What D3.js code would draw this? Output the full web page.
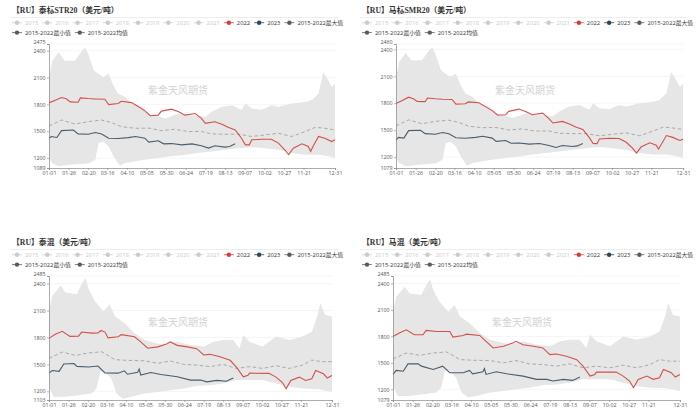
<!DOCTYPE html>
<html>
<head>
<meta charset="utf-8">
<script src="https://cdn.jsdelivr.net/npm/d3@7"></script>
<style>
  body { margin: 0; background: #fff; }
  text { font-family: "Open Sans", "Noto Sans CJK SC", sans-serif; }
</style>
</head>
<body>
<svg id="chart" width="700" height="420"></svg>
<script>
// ---- data ----
const titles = ["【RU】泰标STR20（美元/吨）", "【RU】马标SMR20（美元/吨）", "【RU】泰混（美元/吨）", "【RU】马混（美元/吨）"];
const yMins = [1089, 1079, 1103, 1079];
const yMaxs = [2475, 2460, 2485, 2485];
const yTicks = [1200, 1500, 1800, 2100, 2400];
const tickLabels = ["01-01", "01-26", "02-20", "03-16", "04-10", "05-05", "05-30", "06-24", "07-19", "08-13", "09-07", "10-02", "10-27", "11-21", "12-31"];
const legendNames = ["2015", "2016", "2017", "2018", "2019", "2020", "2021", "2022", "2023", "2015-2022最大值", "2015-2022最小值", "2015-2022均值"];
const watermark = "紫金天风期货";

// [day of year, value]
const p1_2022 = [[0,1817],[8,1846],[16,1876],[22,1862],[27,1828],[37,1824],[40,1872],[50,1865],[59,1861],[71,1857],[76,1798],[88,1810],[92,1835],[105,1820],[114,1773],[122,1728],[129,1673],[139,1680],[143,1725],[156,1747],[165,1717],[173,1680],[186,1698],[194,1643],[199,1588],[211,1606],[220,1577],[228,1544],[237,1514],[245,1422],[250,1348],[255,1348],[258,1404],[271,1411],[283,1411],[292,1367],[300,1293],[305,1238],[311,1311],[322,1359],[330,1330],[333,1275],[336,1330],[343,1441],[351,1422],[360,1385],[364,1404]];
const p1_2023 = [[0,1422],[3,1441],[10,1430],[16,1507],[31,1514],[37,1470],[50,1466],[59,1485],[67,1470],[76,1422],[88,1418],[101,1429],[110,1441],[122,1422],[127,1378],[139,1393],[146,1359],[156,1362],[169,1348],[182,1359],[194,1337],[203,1311],[211,1337],[224,1322],[230,1330],[237,1359]];
const p1Mean = [[0,1559],[16,1625],[33,1581],[50,1607],[67,1625],[80,1596],[92,1551],[110,1533],[127,1535],[143,1507],[160,1522],[177,1496],[194,1498],[207,1470],[224,1466],[241,1468],[258,1441],[275,1459],[292,1477],[309,1441],[326,1496],[339,1544],[351,1533],[364,1514]];
const p1Max = [[0,2100],[4,2280],[12,2382],[20,2289],[33,2289],[42,2400],[46,2437],[50,2363],[57,2178],[63,2141],[69,2105],[76,2141],[82,2012],[88,1920],[97,1883],[105,1810],[118,1773],[131,1662],[135,1680],[148,1643],[165,1698],[182,1680],[199,1662],[207,1717],[220,1773],[233,1791],[245,1736],[250,1810],[258,1754],[271,1740],[283,1791],[292,1773],[309,1810],[326,1828],[334,1846],[343,1920],[349,2160],[353,2105],[360,1994],[364,2031]];
const p1Min = [[0,1200],[4,1145],[12,1108],[29,1127],[50,1138],[59,1182],[63,1367],[69,1385],[76,1330],[82,1219],[90,1116],[97,1145],[110,1164],[122,1182],[139,1201],[156,1219],[173,1238],[190,1256],[207,1274],[224,1293],[241,1311],[258,1322],[275,1311],[292,1293],[309,1256],[326,1238],[343,1238],[356,1219],[364,1201]];

const p2_2022 = [[0,1798],[8,1830],[16,1868],[22,1850],[27,1820],[37,1818],[40,1858],[50,1850],[59,1845],[71,1842],[76,1790],[88,1795],[92,1815],[105,1805],[114,1760],[122,1718],[129,1668],[139,1672],[143,1710],[156,1735],[165,1705],[173,1672],[186,1690],[194,1630],[199,1580],[211,1598],[220,1568],[228,1535],[237,1508],[245,1420],[250,1352],[255,1350],[258,1402],[271,1410],[283,1408],[292,1365],[300,1300],[305,1245],[311,1315],[322,1360],[330,1332],[333,1290],[336,1335],[343,1440],[351,1420],[360,1385],[364,1400]];
const p2_2023 = [[0,1390],[3,1420],[10,1412],[16,1495],[31,1500],[37,1462],[50,1455],[59,1475],[67,1460],[76,1415],[88,1410],[101,1420],[110,1432],[122,1412],[127,1375],[139,1385],[146,1355],[156,1358],[169,1345],[182,1352],[194,1330],[203,1308],[211,1330],[224,1318],[230,1325],[237,1352]];
const p2Mean = [[0,1548],[16,1615],[33,1572],[50,1598],[67,1612],[80,1585],[92,1545],[110,1528],[127,1530],[143,1502],[160,1515],[177,1490],[194,1492],[207,1466],[224,1462],[241,1462],[258,1438],[275,1455],[292,1470],[309,1438],[326,1490],[339,1535],[351,1525],[364,1508]];
const p2Max = [[0,2090],[4,2260],[12,2360],[20,2275],[33,2280],[42,2390],[46,2425],[50,2350],[57,2170],[63,2130],[69,2095],[76,2130],[82,2000],[88,1910],[97,1872],[105,1800],[118,1765],[131,1655],[135,1672],[148,1636],[165,1690],[182,1672],[199,1655],[207,1708],[220,1765],[233,1780],[245,1728],[250,1800],[258,1745],[271,1732],[283,1782],[292,1765],[309,1800],[326,1818],[334,1835],[343,1910],[349,2145],[353,2095],[360,1985],[364,2020]];
const p2Min = [[0,1190],[4,1135],[12,1098],[29,1115],[50,1128],[59,1172],[63,1355],[69,1372],[76,1320],[82,1210],[90,1105],[97,1135],[110,1155],[122,1172],[139,1190],[156,1208],[173,1228],[190,1245],[207,1262],[224,1282],[241,1300],[258,1312],[275,1300],[292,1282],[309,1245],[326,1228],[343,1228],[356,1210],[364,1190]];

const p3_2022 = [[0,1790],[8,1835],[17,1868],[27,1812],[38,1815],[42,1860],[55,1848],[63,1850],[67,1878],[72,1860],[76,1795],[89,1808],[93,1832],[110,1808],[118,1750],[127,1680],[140,1695],[152,1730],[156,1750],[165,1712],[178,1695],[190,1675],[199,1605],[207,1612],[220,1585],[233,1545],[241,1470],[250,1362],[256,1378],[258,1402],[283,1400],[292,1358],[300,1300],[305,1230],[311,1320],[322,1358],[330,1320],[338,1340],[343,1432],[353,1395],[358,1348],[364,1375]];
const p3_2023 = [[0,1402],[4,1432],[13,1422],[19,1505],[32,1510],[36,1478],[51,1470],[63,1482],[72,1405],[89,1402],[97,1428],[101,1390],[114,1412],[116,1448],[118,1382],[131,1410],[144,1388],[165,1362],[182,1325],[195,1325],[203,1305],[216,1322],[228,1312],[237,1348]];
const p3Mean = [[0,1567],[17,1637],[34,1600],[51,1628],[68,1640],[85,1552],[101,1545],[123,1540],[140,1512],[156,1538],[173,1500],[190,1492],[207,1475],[224,1500],[241,1455],[258,1475],[275,1455],[292,1485],[309,1455],[326,1492],[338,1548],[351,1530],[364,1530]];
const p3Max = [[0,2100],[4,2260],[15,2378],[21,2300],[36,2282],[42,2395],[47,2462],[51,2338],[59,2205],[70,2092],[78,2168],[85,2035],[97,1960],[110,1848],[123,1772],[131,1752],[148,1715],[165,1752],[182,1715],[199,1698],[212,1752],[224,1772],[237,1772],[245,1678],[250,1828],[258,1752],[275,1698],[292,1810],[309,1772],[326,1810],[338,1865],[345,2035],[349,2185],[355,2052],[364,2035]];
const p3Min = [[0,1250],[6,1138],[21,1138],[38,1155],[55,1175],[61,1230],[66,1418],[72,1422],[80,1342],[87,1175],[95,1118],[106,1138],[123,1175],[140,1192],[156,1212],[173,1230],[190,1260],[207,1268],[224,1286],[241,1325],[258,1325],[275,1325],[292,1286],[309,1250],[326,1230],[347,1222],[364,1192]];

const p4_2022 = [[0,1800],[8,1838],[17,1875],[27,1819],[38,1819],[42,1868],[55,1856],[72,1856],[76,1793],[89,1811],[93,1826],[110,1811],[118,1744],[127,1669],[140,1688],[152,1725],[156,1744],[165,1706],[178,1688],[190,1669],[199,1594],[207,1601],[220,1575],[233,1537],[241,1463],[250,1350],[256,1369],[258,1395],[283,1395],[292,1350],[300,1294],[305,1219],[311,1313],[322,1350],[330,1313],[338,1331],[343,1425],[353,1388],[358,1339],[364,1369]];
const p4_2023 = [[0,1369],[4,1414],[13,1405],[19,1489],[32,1489],[36,1463],[51,1425],[63,1463],[72,1388],[89,1388],[97,1414],[101,1376],[114,1399],[116,1436],[118,1369],[131,1399],[144,1376],[165,1350],[182,1313],[195,1313],[203,1294],[216,1313],[228,1301],[237,1339]];
const p4Mean = [[0,1545],[17,1612],[34,1586],[51,1612],[68,1624],[85,1537],[101,1530],[123,1526],[140,1500],[156,1526],[173,1489],[190,1481],[207,1463],[224,1489],[241,1444],[258,1463],[275,1444],[292,1474],[309,1444],[326,1481],[338,1537],[351,1519],[364,1519]];
const p4Max = [[0,2080],[4,2250],[15,2362],[21,2287],[36,2269],[42,2381],[47,2449],[51,2325],[59,2194],[70,2081],[78,2156],[85,2025],[97,1950],[110,1838],[123,1763],[131,1744],[148,1706],[165,1744],[182,1706],[199,1688],[212,1744],[224,1763],[237,1763],[245,1669],[250,1819],[258,1744],[275,1688],[292,1800],[309,1763],[326,1800],[338,1856],[345,2025],[349,2175],[355,2044],[364,2025]];
const p4Min = [[0,1238],[6,1125],[21,1125],[38,1144],[55,1163],[61,1219],[66,1406],[72,1412],[80,1331],[87,1163],[95,1106],[106,1125],[123,1163],[140,1181],[156,1200],[173,1219],[190,1249],[207,1256],[224,1275],[241,1313],[258,1313],[275,1313],[292,1275],[309,1238],[326,1219],[347,1212],[364,1181]];

const series2022 = [p1_2022, p2_2022, p3_2022, p4_2022];
const series2023 = [p1_2023, p2_2023, p3_2023, p4_2023];
const seriesMean = [p1Mean, p2Mean, p3Mean, p4Mean];
const seriesMax = [p1Max, p2Max, p3Max, p4Max];
const seriesMin = [p1Min, p2Min, p3Min, p4Min];

// ---- layout ----
const panels = [
  { ox: 0, oy: 0, left: 49, right: 335 },
  { ox: 350, oy: 0, left: 396, right: 683 },
  { ox: 0, oy: 232, left: 49, right: 332 },
  { ox: 350, oy: 232, left: 393, right: 680 },
];
const plotTop = 44, plotBottom = 168;
const red = "#d23f3a", navy = "#2f4554", band = "#e6e6e6";

const svg = d3.select("#chart");
const jan1 = new Date(2023, 0, 1);
const parseDay = d3.timeParse("%Y-%m-%d");
const dayOf = (s) => d3.timeDay.count(jan1, parseDay("2023-" + s));

panels.forEach((p, i) => {
  const g = svg.append("g");
  const top = p.oy + plotTop, bottom = p.oy + plotBottom;

  // title + separator
  g.append("text")
    .attr("x", p.ox + 12)
    .attr("y", p.oy + 13)
    .style("font-family", '"Liberation Serif", "Noto Sans CJK SC", serif')
    .style("font-weight", "bold")
    .style("font-size", "7.8px")
    .attr("fill", "#333")
    .text(titles[i]);
  g.append("line")
    .attr("x1", p.ox + 10).attr("x2", p.ox + 338)
    .attr("y1", p.oy + 17.5).attr("y2", p.oy + 17.5)
    .attr("stroke", "#e3e3e3").attr("stroke-width", 0.6);

  // legend
  let lx = p.ox + 12;
  legendNames.forEach((name, k) => {
    if (k === 10) lx = p.ox + 12;
    const ly = p.oy + (k < 10 ? 22.7 : 32.6);
    let c = "#ccc", tc = "#ccc";
    if (k === 7) { c = red; tc = "#333"; }
    else if (k === 8) { c = navy; tc = "#333"; }
    else if (k > 8) { c = "#5a5a5a"; tc = "#333"; }
    const it = g.append("g");
    it.append("line").attr("x1", lx).attr("x2", lx + 10).attr("y1", ly).attr("y2", ly)
      .attr("stroke", c).attr("stroke-width", 0.8);
    it.append("circle").attr("cx", lx + 5).attr("cy", ly).attr("r", 2.2).attr("fill", c);
    const t = it.append("text").attr("x", lx + 13).attr("y", ly + 2)
      .style("font-size", "5.8px").attr("fill", tc).text(name);
    lx += 13 + t.node().getComputedTextLength() + 4;
  });

  const x = d3.scaleLinear().domain([0, 364]).range([p.left, p.right]);
  const y = d3.scaleLinear().domain([yMins[i], yMaxs[i]]).range([bottom, top]);

  // grid
  g.append("g").selectAll("line").data(yTicks.concat([yMaxs[i]])).join("line")
    .attr("x1", p.left).attr("x2", p.right)
    .attr("y1", (d) => y(d)).attr("y2", (d) => y(d))
    .attr("stroke", "#eeeeee").attr("stroke-width", 0.6);

  // band between min and max
  const line = d3.line().x((d) => x(d[0])).y((d) => y(d[1]));
  const ring = seriesMax[i].concat(seriesMin[i].slice().reverse());
  g.append("path").attr("d", line(ring) + "Z").attr("fill", band);

  g.append("text")
    .attr("x", p.left + 99).attr("y", top + 50)
    .style("font-size", "10px").attr("fill", "#d3d3d3")
    .text(watermark);

  g.append("path").attr("d", line(seriesMean[i])).attr("fill", "none")
    .attr("stroke", "#a9a9a9").attr("stroke-width", 1).attr("stroke-dasharray", "3.5,2.5");
  g.append("path").attr("d", line(series2022[i])).attr("fill", "none")
    .attr("stroke", red).attr("stroke-width", 1.1).attr("opacity", 0.9);
  g.append("path").attr("d", line(series2023[i])).attr("fill", "none")
    .attr("stroke", navy).attr("stroke-width", 1.1).attr("opacity", 0.85);

  // axes
  const yAxis = g.append("g").attr("transform", `translate(${p.left},0)`)
    .call(d3.axisLeft(y).tickValues([yMins[i]].concat(yTicks, [yMaxs[i]])).tickSize(2).tickPadding(1.5).tickFormat(d3.format("d")));
  const xAxis = g.append("g").attr("transform", `translate(0,${bottom})`)
    .call(d3.axisBottom(x).tickValues(tickLabels.map(dayOf)).tickSize(2).tickPadding(1.5)
      .tickFormat((d, k) => tickLabels[k]));
  [yAxis, xAxis].forEach((a) => {
    a.select(".domain").attr("stroke", "#888").attr("stroke-width", 0.7);
    a.selectAll(".tick line").attr("stroke", "#888").attr("stroke-width", 0.6);
    a.selectAll("text").style("font-size", "5.3px").attr("fill", "#555")
      .style("font-family", '"Open Sans", sans-serif');
  });
  // keep the top label clear of the 2400 label
  yAxis.selectAll(".tick").filter((d) => d === yMaxs[i]).select("text").attr("dy", "-0.05em");
});
</script>
</body>
</html>
